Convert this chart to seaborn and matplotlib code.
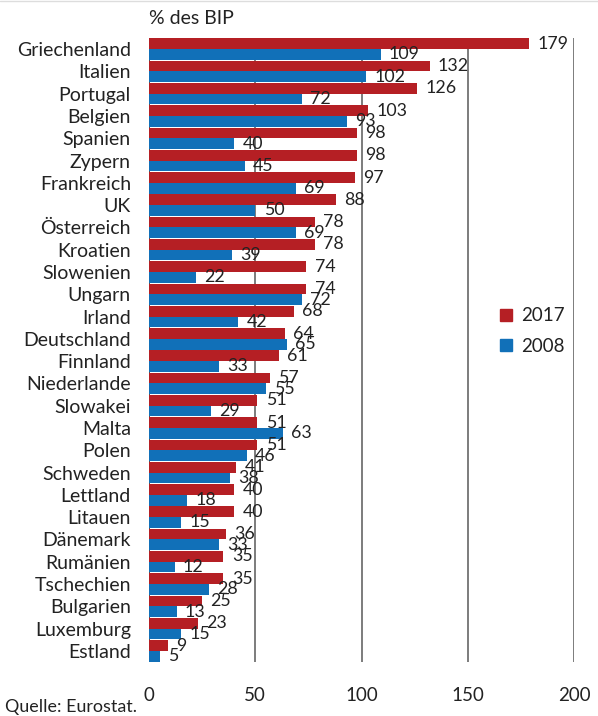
import matplotlib
matplotlib.use("Agg")
import matplotlib.pyplot as plt
import matplotlib.transforms as mtransforms
from matplotlib.lines import Line2D
import seaborn as sns
import pandas as pd

countries = ["Griechenland", "Italien", "Portugal", "Belgien", "Spanien", "Zypern",
             "Frankreich", "UK", "Österreich", "Kroatien", "Slowenien", "Ungarn",
             "Irland", "Deutschland", "Finnland", "Niederlande", "Slowakei", "Malta",
             "Polen", "Schweden", "Lettland", "Litauen", "Dänemark", "Rumänien",
             "Tschechien", "Bulgarien", "Luxemburg", "Estland"]
debt_2017 = [179, 132, 126, 103, 98, 98, 97, 88, 78, 78, 74, 74, 68, 64, 61, 57,
             51, 51, 51, 41, 40, 40, 36, 35, 35, 25, 23, 9]
debt_2008 = [109, 102, 72, 93, 40, 45, 69, 50, 69, 39, 22, 72, 42, 65, 33, 55,
             29, 63, 46, 38, 18, 15, 33, 12, 28, 13, 15, 5]
years = ["2017", "2008"]
x_ticks = [0, 50, 100, 150, 200]

RED = "#b51f24"
BLUE = "#1170b8"
TXT = "#222222"

df = pd.DataFrame({
    "Land": countries * 2,
    "Jahr": [years[0]] * len(countries) + [years[1]] * len(countries),
    "Wert": debt_2017 + debt_2008,
})

sns.set_style("white")
plt.rcParams["font.family"] = ["Lato", "DejaVu Sans"]

fig = plt.figure(figsize=(5.98, 7.16), dpi=100)
ax = fig.add_axes([149 / 598, 1 - 662 / 716, (574 - 149) / 598, (662 - 38) / 716])

sns.barplot(data=df, y="Land", x="Wert", hue="Jahr", orient="h",
            palette=[RED, BLUE], hue_order=years, order=countries,
            saturation=1, width=0.96, linewidth=0, legend=False, ax=ax)

# value labels, nudged slightly below the bar centre
for cont in ax.containers:
    labels = ax.bar_label(cont, fmt="%d", padding=6, fontsize=12.8, color=TXT)
    for t in labels:
        t.set_transform(t.get_transform() + mtransforms.ScaledTranslation(0, -2 / 100, fig.dpi_scale_trans))

ax.set_xlim(0, 200)
ax.set_ylim(27.5, -0.5)
ax.set_xticks(x_ticks)
ax.set_xlabel("")
ax.set_ylabel("")
for s in ax.spines.values():
    s.set_visible(False)
for v in x_ticks:
    ax.axvline(v, color="#333333" if v == 0 else "#666666", lw=1.2, zorder=0)
ax.tick_params(axis="x", length=0, pad=18, labelsize=13.5, labelcolor=TXT)
ax.tick_params(axis="y", length=0, pad=13, labelsize=14, labelcolor=TXT)

handles = [Line2D([], [], marker="s", ls="", color=RED, markersize=8),
           Line2D([], [], marker="s", ls="", color=BLUE, markersize=8)]
fig.legend(handles, years, loc="center left", bbox_to_anchor=(480 / 598, 1 - 331 / 716),
           frameon=False, fontsize=13.5, handletextpad=0.3, labelspacing=0.7,
           handlelength=1.0, labelcolor=TXT)

fig.text(149 / 598, 1 - 18 / 716, "% des BIP", fontsize=14, color=TXT,
         ha="left", va="center")
fig.text(5 / 598, 1 - 707 / 716, "Quelle: Eurostat.", fontsize=12.9, color=TXT,
         ha="left", va="center")
fig.add_artist(Line2D([0, 1], [0.999, 0.999], transform=fig.transFigure,
                      color="#dddddd", lw=1))

fig.savefig("out.png", dpi=100)
